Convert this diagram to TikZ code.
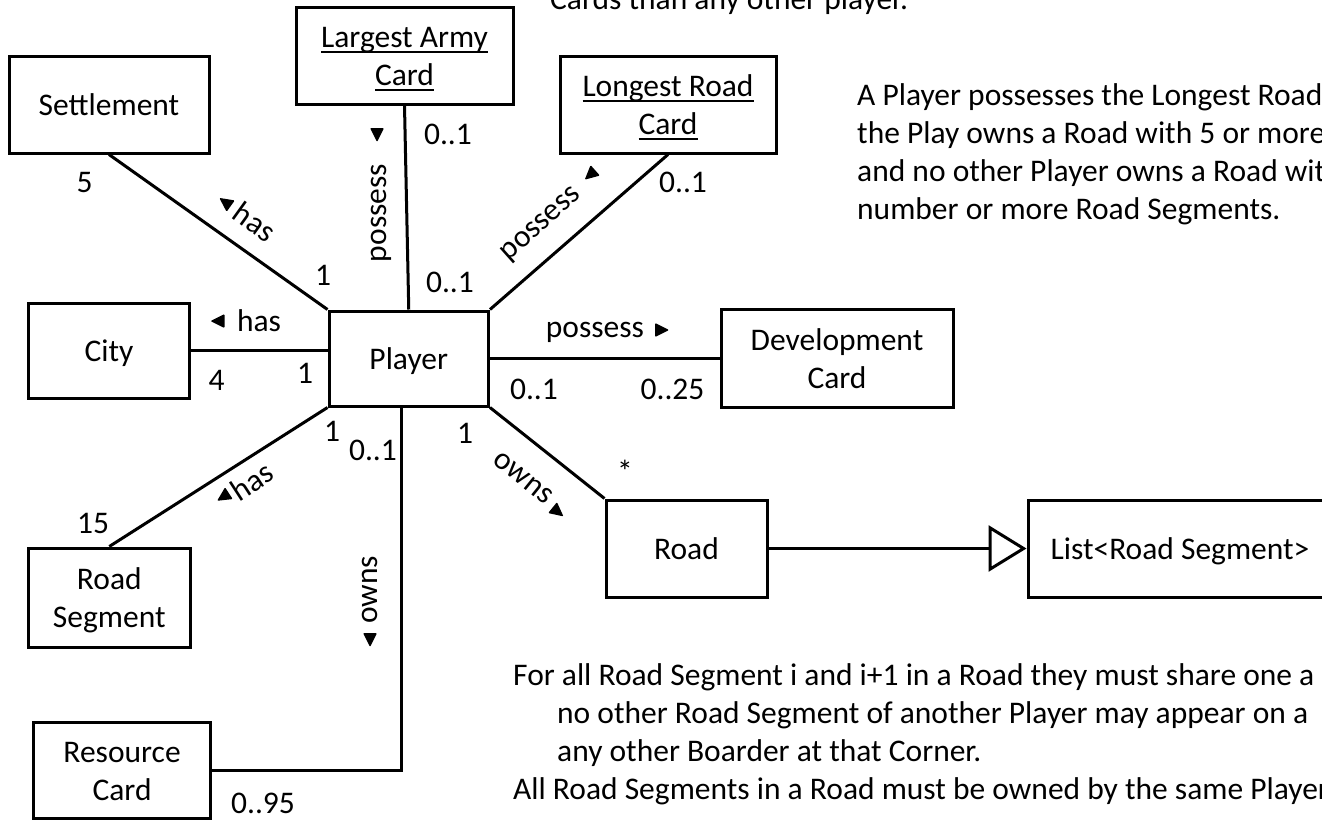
\documentclass[tikz,border=0pt]{standalone}
\usepackage{fontspec}
\setmainfont{Carlito}
\usetikzlibrary{arrows.meta}
% strut giving every text line the same height and depth
\newcommand\bstrut{\rule[-8pt]{0pt}{38pt}}
% underline at a fixed depth below the baseline
\newsavebox\ulbox
\newcommand\ulc[1]{\sbox\ulbox{#1}\rlap{\rule[-5pt]{\wd\ulbox}{2pt}}\usebox\ulbox}
\begin{document}
\begin{tikzpicture}[x=1pt,y=1pt,
  every node/.style={font=\fontsize{31.5}{38}\selectfont, inner sep=0pt},
  cls/.style={draw, line width=3pt, align=center},
  assoc/.style={line width=3pt},
  txt/.style={anchor=base west},
  tri/.pic={\fill[rounded corners=1pt] (7,0) -- (-7,7) -- (-7,-7) -- cycle;}]
\useasboundingbox (0,0) rectangle (1322,-819);
\clip (0,0) rectangle (1322,-819);

% classes
\node[cls, minimum width=200pt, minimum height=97pt] (settlement) at (109,-104.5) {\bstrut Settlement};
\node[cls, minimum width=217pt, minimum height=97pt] (army) at (404.5,-55.5) {\bstrut\ulc{Largest Army}\\\bstrut\ulc{Card}};
\node[cls, minimum width=216pt, minimum height=97pt] (longest) at (668,-104.5) {\bstrut\ulc{Longest Road}\\\bstrut\ulc{Card}};
\node[cls, minimum width=161pt, minimum height=95pt] (city) at (109.1,-350.5) {\bstrut City};
\node[cls, minimum width=159.5pt, minimum height=95pt] (player) at (408.75,-358.5) {\bstrut Player};
\node[cls, minimum width=232pt, minimum height=98pt] (dev) at (837,-358) {\bstrut Development\\\bstrut Card};
\node[cls, minimum width=161.4pt, minimum height=99pt] (roadseg) at (109.3,-597.5) {\bstrut Road\\\bstrut Segment};
\node[cls, minimum width=176.8pt, minimum height=96pt] (resource) at (122.1,-770) {\bstrut Resource\\\bstrut Card};
\node[cls, minimum width=161pt, minimum height=97pt] (road) at (686.5,-548.5) {\bstrut Road};
\node[cls, minimum width=304pt, minimum height=97pt] (list) at (1180,-548.5) {\bstrut List<Road Segment>};

% associations
\draw[assoc] (settlement.south) -- (player.north west);
\draw[assoc] (army.south) -- (player.north);
\draw[assoc] (longest.south) -- (player.north east);
\draw[assoc] (city.east) -- (city.east -| player.west);
\draw[assoc] (player.east) -- (player.east -| dev.west);
\draw[assoc] (player.south west) -- (roadseg.north);
\draw[assoc] ([xshift=-7pt]player.south) |- (resource.east);
\draw[assoc] (player.south east) -- (road.north west);
\draw[assoc, -{Triangle[open, length=38pt, width=46pt]}] (road.east) -- (list.west);

% Settlement
\node (m5) at (84.6,-182.7) {5};
\node (m1a) at (323,-275) {1};
\node[rotate=-35.8] (sethas) at (255,-222) {has};
\pic[rotate=144.2] at (225,-202) {tri};
% Largest Army Card
\node (a01t) at (448,-134) {0..1};
\node (a01b) at (450,-282) {0..1};
\node[rotate=90] (armypos) at (381,-213) {possess};
\pic[rotate=-90] at (377,-135) {tri};
% Longest Road Card
\node (l01) at (683,-182) {0..1};
\node[rotate=41.6] (lrpos) at (542,-225) {possess};
\pic[rotate=221.6] at (590,-175) {tri};
% City
\node (cityhas) at (259,-321) {has};
\pic[rotate=180] at (217.5,-321) {tri};
\node (c4) at (216.7,-380) {4};
\node (c1) at (305,-373) {1};
% Development Card
\node (devpos) at (595,-332) {possess};
\pic at (662,-330) {tri};
\node (d01) at (534,-389) {0..1};
\node (d025) at (672.5,-389) {0..25};
% Road
\node (r1) at (465,-433) {1};
\node (rstar) at (625,-471) {*};
\node[rotate=-38.9] (rowns) at (523,-478) {owns};
\pic[rotate=-38.9] at (558,-512) {tri};
% Road Segment
\node (rs1) at (332,-431) {1};
\node (rs15) at (93,-523) {15};
\node[rotate=33] (rshas) at (252,-481) {has};
\pic[rotate=213] at (223,-497) {tri};
% Resource Card
\node (res01) at (373,-450) {0..1};
\node[rotate=90] (resowns) at (370,-590) {owns};
\pic[rotate=-90] at (370,-640) {tri};
\node (res095) at (263,-803) {0..95};

% constraint notes
\node[txt] (n0) at (550,-9.5) {Cards than any other player.};
\node[txt] (n1) at (857,-105) {A Player possesses the Longest Road};
\node[txt] (n2) at (857,-143) {the Play owns a Road with 5 or more};
\node[txt] (n3) at (857,-181) {and no other Player owns a Road with};
\node[txt] (n4) at (857,-219) {number or more Road Segments.};
\node[txt] (n5) at (513,-685.5) {For all Road Segment i and i+1 in a Road they must share one a};
\node[txt] (n6) at (557,-723.5) {no other Road Segment of another Player may appear on a};
\node[txt] (n7) at (557,-761.5) {any other Boarder at that Corner.};
\node[txt] (n8) at (513,-799.5) {All Road Segments in a Road must be owned by the same Player};
\end{tikzpicture}
\end{document}
